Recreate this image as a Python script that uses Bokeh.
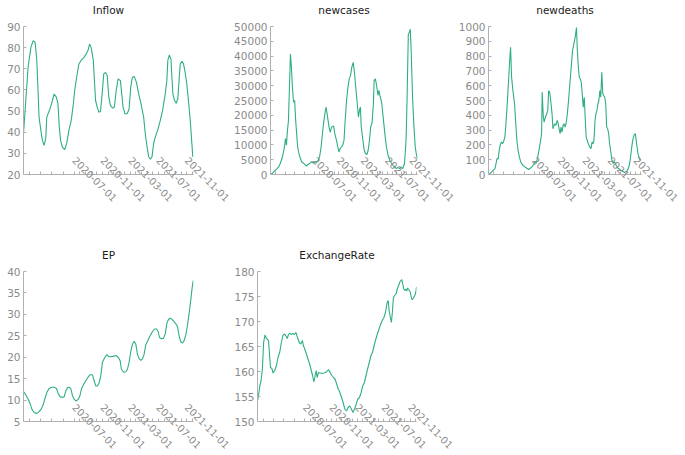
import math
from datetime import datetime
import numpy as np
import pandas as pd
from bokeh.plotting import figure
from bokeh.layouts import row, column
from bokeh.models import (Range1d, FixedTicker, DatetimeTickFormatter, BasicTickFormatter,
                          SingleIntervalTicker, Title)
from bokeh.embed import file_html
from bokeh.resources import INLINE

# ---------------- data (x = step index; ~weekly samples from START to END) ----------------
START = datetime(2019, 11, 24)
END = datetime(2021, 11, 30)
N_STEPS = 104  # the index value at END

tick_labels = ["2020-07-01", "2020-11-01", "2021-03-01", "2021-07-01", "2021-11-01"]

inflow_wk = [0, 1.4, 2.8, 4.5, 5.9, 7.1, 8.1, 8.9, 9.5, 10.6, 11.6, 12.6, 13.6, 14.2, 15.0, 16.2,
             17.7, 18.7, 20.1, 21.1, 21.9, 22.7, 23.8, 25.2, 26.4, 27.8, 29.2, 30.5, 31.3, 32.5,
             33.9, 35.3, 37.0, 38.6, 39.4, 40.4, 41.4, 42.7, 43.5, 44.1, 45.1, 46.1, 47.1, 48.1,
             49.1, 50.2, 51.2, 52.2, 53.2, 54.6, 55.6, 56.7, 57.9, 59.3, 60.1, 60.9, 62.1, 63.4,
             64.6, 65.6, 66.6, 67.8, 69.1, 70.5, 71.9, 73.5, 74.5, 75.6, 76.6, 77.6, 78.6, 79.6,
             80.6, 82.1, 83.7, 85.1, 86.7, 87.7, 88.3, 89.2, 90.2, 90.8, 91.4, 92.4, 93.4, 94.4,
             95.3, 95.9, 96.9, 97.9, 98.9, 99.9, 100.9, 102.0, 103.0, 103.6]
inflow = [39.3, 55, 70.7, 80, 83.3, 82.5, 74.6, 59.7, 47.2, 41, 36, 33.8, 37, 47, 48.7, 51,
          55, 58, 56.6, 53.4, 42.4, 36, 33, 31.8, 34.6, 41, 45.6, 53.4, 59.7, 66,
          72.3, 74, 75.4, 77.3, 78.5, 81.7, 80, 74, 63, 55, 51.9, 49.5, 49.8, 58,
          67.6, 68.3, 66.8, 56.6, 52.6, 51.4, 51.9, 59.7, 65.2, 64.4, 58, 51.9, 48.7, 48.7,
          51, 61.3, 66, 66.3, 63.6, 58, 53.4, 47.2, 39.3, 33, 28.3, 27.2, 28.3, 34.6,
          37.7, 41, 45.6, 50.3, 58, 64.4, 74, 76.5, 74.6, 66, 58, 55, 53.7, 55.8,
          66, 72.3, 73.5, 72.3, 68.3, 62.8, 55, 45.6, 34.6, 28.3]

newcases_wk = [0.0, 1.2, 2.3, 3.5, 4.6, 5.8, 6.9, 8.1, 9.2, 9.9, 10.6, 11.3, 11.8, 12.7, 13.4, 14.1,
               14.8, 15.5, 16.2, 16.6, 17.1, 17.8, 18.5, 19.2, 20.1, 20.8, 22.0, 23.1, 24.3, 25.4,
               26.6, 27.7, 28.9, 30.0, 31.2, 32.4, 33.5, 34.7, 35.8, 37.0, 38.1, 39.3, 40.4, 41.6,
               42.3, 43.2, 44.6, 45.5, 46.7, 47.6, 48.5, 49.2, 50.1, 51.1, 52.0, 52.7, 53.8, 54.8,
               55.7, 56.6, 57.5, 58.5, 59.4, 60.3, 61.2, 62.2, 62.9, 63.6, 64.2, 65.4, 66.3, 67.2,
               68.2, 69.1, 70.0, 70.9, 71.9, 72.8, 73.3, 74.2, 75.1, 76.0, 76.7, 77.4, 78.6, 79.7,
               80.9, 82.0, 83.2, 84.4, 85.5, 86.7, 87.8, 89.0, 90.1, 91.3, 92.4, 93.6, 94.8, 95.9,
               96.6, 97.5, 98.2, 98.9, 99.6, 100.5, 101.5, 102.4, 103.3, 104.0]
newcases = [0, 300, 900, 1500, 2000, 2600, 3700, 5400, 7600, 9300, 12100, 9900, 13800, 18300, 29500, 40700,
            36200, 29500, 25000, 24400, 25000, 18300, 13800, 9300, 7100, 5900, 4300, 3900, 3400, 2800,
            3400, 3700, 4300, 4000, 4000, 3900, 4600, 5900, 9300, 14900, 19400, 22800, 19400, 15500,
            14300, 16000, 16400, 13800, 11500, 9300, 7600, 8700, 9300, 9900, 11500, 17200, 25000, 29500,
            32300, 33400, 36200, 37900, 34500, 29500, 25000, 19400, 21600, 22800, 16000, 11500, 8200, 7100,
            6700, 8200, 11500, 16000, 17700, 23900, 31700, 32300, 30000, 26700, 28400, 26700, 24400, 19400,
            13800, 9300, 6500, 4800, 3900, 3100, 2600, 2000, 2400, 2000, 2600, 2000, 3700, 11500,
            25000, 47400, 48000, 49100, 40700, 26100, 16000, 9300, 6500, 5400]

newdeaths_wk = [0.0, 1.1, 2.2, 3.3, 4.4, 5.1, 5.8, 6.6, 7.3, 8.2, 8.9, 9.5, 10.2, 11.1, 11.7, 12.6,
                13.5, 14.4, 15.0, 15.7, 16.6, 17.7, 18.4, 19.3, 20.1, 21.0, 21.9, 22.8, 23.7, 24.6,
                25.4, 26.3, 27.2, 28.1, 29.0, 29.9, 30.8, 31.6, 32.3, 33.2, 33.9, 34.7, 35.4, 36.1,
                36.5, 37.2, 37.8, 38.7, 39.6, 40.3, 40.9, 41.6, 42.3, 43.2, 43.8, 44.5, 45.1, 45.8,
                46.7, 47.4, 48.0, 48.7, 49.3, 50.0, 50.7, 51.3, 52.0, 52.7, 53.6, 54.4, 55.3, 56.2,
                57.1, 58.0, 58.9, 59.8, 60.4, 61.1, 61.7, 62.4, 63.1, 63.7, 64.4, 65.1, 65.7, 66.4,
                67.1, 67.9, 68.8, 69.7, 70.4, 71.0, 71.7, 72.4, 73.0, 73.7, 74.4, 75.0, 75.7, 76.3,
                77.0, 77.7, 78.3, 79.0, 79.7, 80.3, 81.0, 81.7, 82.3, 83.0, 83.9, 84.8, 85.4, 86.1,
                86.7, 87.4, 88.3, 89.2, 90.1, 91.0, 91.8, 92.7, 93.6, 94.5, 95.4, 96.3, 97.1, 98.0,
                98.9, 99.8, 100.7, 101.6, 102.5, 103.3]
newdeaths = [3, 7, 18, 29, 40, 74, 108, 105, 164, 208, 220, 208, 220, 253, 321, 455,
             612, 769, 859, 657, 567, 478, 365, 231, 164, 119, 85, 70, 58, 52,
             47, 40, 34, 40, 47, 56, 70, 85, 74, 108, 141, 186, 231, 276,
             556, 399, 354, 388, 410, 433, 567, 556, 500, 410, 309, 332, 343, 332,
             365, 343, 309, 276, 321, 287, 332, 343, 321, 343, 410, 500, 612, 724,
             836, 881, 926, 993, 836, 724, 657, 646, 623, 545, 455, 522, 388, 253,
             231, 208, 186, 175, 220, 208, 231, 365, 410, 433, 478, 500, 567, 522,
             690, 545, 534, 522, 478, 321, 309, 276, 208, 164, 96, 74, 85, 78,
             63, 52, 40, 34, 29, 22, 18, 13, 18, 29, 52, 96, 164, 231,
             265, 276, 208, 141, 108, 96]

ep_wk = [0, 1.4, 2.9, 4.1, 5.1, 6.5, 8.2, 9.6, 11.0, 12.2, 13.3, 14.3, 15.7, 17.1, 18.8, 20.2,
         21.2, 22.4, 23.9, 24.9, 25.9, 26.9, 27.9, 29.0, 30.0, 31.0, 32.0, 33.4, 34.5, 35.5,
         36.7, 38.1, 39.6, 40.8, 42.2, 43.2, 44.2, 45.3, 46.3, 47.3, 48.3, 49.8, 51.0, 52.0,
         53.4, 54.8, 56.5, 57.9, 59.1, 59.9, 61.2, 62.6, 63.6, 64.6, 65.7, 66.7, 67.7, 68.7,
         69.7, 70.8, 71.8, 72.8, 73.8, 74.8, 75.9, 76.9, 77.9, 78.9, 80.3, 81.4, 82.4, 83.2,
         84.4, 85.6, 86.7, 87.7, 88.7, 89.7, 90.7, 91.8, 93.2, 94.2, 95.2, 96.2, 97.3, 98.3,
         99.3, 100.3, 101.3, 102.4, 103.2, 103.8]
ep = [12.0, 11.2, 10.2, 9.1, 7.9, 7.1, 6.9, 7.3, 8.0, 9.1, 10.6, 11.8, 12.7, 13.0, 13.0, 12.7,
      11.5, 10.8, 10.6, 10.8, 12.2, 12.9, 13.0, 12.6, 11.0, 10.2, 9.8, 10.1, 11.0, 12.7,
      13.6, 14.5, 15.4, 15.9, 15.9, 14.5, 13.3, 13.3, 14.1, 15.7, 18.8, 20.0, 20.6, 20.2,
      20.1, 20.2, 20.4, 20.0, 19.2, 17.2, 16.5, 16.6, 17.2, 18.8, 21.5, 23.1, 23.7, 23.1,
      20.7, 19.6, 19.3, 19.6, 20.7, 22.9, 23.7, 24.6, 25.3, 26.0, 26.6, 26.6, 26.0, 24.6,
      24.3, 24.4, 25.4, 27.9, 28.8, 29.1, 28.9, 28.4, 27.8, 27.2, 25.0, 23.6, 23.3, 23.9,
      25.2, 27.4, 30.1, 33.6, 36.3, 37.9]

fx_wk = [0, 0.6, 1.5, 2.3, 3.2, 4.0, 4.9, 5.8, 6.6, 7.2, 7.9, 8.5, 9.4, 10.2, 11.3, 12.4,
         13.4, 14.5, 15.6, 16.6, 17.7, 18.8, 19.4, 20.2, 21.1, 21.9, 23.0, 24.1, 25.1, 26.2,
         27.3, 28.3, 29.4, 30.0, 30.9, 32.0, 33.0, 34.1, 35.2, 36.0, 36.9, 37.7, 38.4, 39.0,
         39.9, 41.1, 42.2, 43.3, 44.3, 45.4, 46.5, 47.5, 48.6, 49.7, 50.7, 51.8, 52.8, 53.9,
         55.0, 56.0, 57.1, 58.2, 59.2, 60.3, 61.4, 62.4, 63.5, 64.6, 65.6, 66.7, 67.8, 68.8,
         69.9, 71.0, 72.0, 73.1, 74.2, 75.2, 76.3, 77.4, 78.4, 79.5, 80.6, 81.6, 82.7, 83.7,
         84.8, 85.5, 86.1, 86.9, 87.6, 88.2, 88.9, 89.7, 90.6, 91.4, 92.3, 93.3, 94.4, 95.0,
         95.7, 96.3, 97.0, 97.6, 98.2, 99.1, 99.9, 100.8, 101.4, 102.1, 102.9, 103.6, 104.0]
fx = [154.1, 155.1, 157.1, 158.1, 160.5, 165.8, 167.3, 166.6, 166.4, 166.2, 163.2, 160.8, 160.6, 159.7, 160.2, 161.2,
      162.8, 163.8, 165.8, 167.2, 167.5, 167.0, 166.6, 167.3, 167.7, 167.4, 167.6, 167.4, 167.8, 166.8,
      165.8, 165.5, 166.2, 165.2, 164.5, 163.5, 162.5, 161.5, 160.2, 159.2, 157.9, 159.2, 160.2, 158.8,
      159.8, 159.7, 159.6, 159.7, 159.8, 160.0, 160.4, 159.8, 159.2, 158.8, 158.5, 157.5, 156.5, 155.8,
      154.8, 153.8, 152.5, 152.1, 152.8, 153.1, 152.5, 151.8, 152.5, 153.5, 154.5, 154.8, 155.8, 157.1,
      157.8, 159.2, 160.5, 161.8, 163.2, 163.8, 165.2, 166.5, 167.5, 168.5, 169.5, 170.2, 170.8, 171.8,
      173.8, 174.2, 172.2, 170.8, 169.8, 171.8, 174.8, 175.2, 175.5, 176.5, 177.2, 178.0, 178.4, 177.5,
      176.5, 176.2, 176.5, 176.1, 176.7, 176.3, 175.9, 174.5, 174.4, 174.8, 175.2, 175.9, 176.9]

# ---------------- helpers ----------------
LINE = "#2eae85"
AXIS = "#b0b0b0"
LABEL = "#8a8a8a"
FONT = "DejaVu Sans"
SPAN_MIN = (pd.Timestamp(END) - pd.Timestamp(START)).total_seconds() / 60.0


def to_dates(steps):
    mins = np.round(np.asarray(steps, dtype=float) / N_STEPS * SPAN_MIN).astype("int64")
    return np.datetime64(START, "m") + mins.astype("timedelta64[m]")


def ms(d):
    return float(pd.Timestamp(d).value // 10**6)


major_ticks = [ms(s) for s in tick_labels]
ext = [ms("2019-11-01")] + major_ticks + [ms("2022-03-01")]
minor_ticks = []
for a, b in zip(ext[:-1], ext[1:]):
    minor_ticks += list(np.linspace(a, b, 6)[1:-1])

fmt = "%Y-%m-%d"
dt_fmt = DatetimeTickFormatter(days=fmt, months=fmt, years=fmt, hours=fmt, minutes=fmt,
                               seconds=fmt, milliseconds=fmt, microseconds=fmt, minsec=fmt,
                               hourmin=fmt)


def make_fig(title, wk, vals, y0, y1, step, w, h, bl, br, bt, bb):
    p = figure(width=w, height=h, x_axis_type="datetime", output_backend="svg",
               toolbar_location=None, x_range=Range1d(START, END), y_range=Range1d(y0, y1),
               min_border_left=bl, min_border_right=br, min_border_top=bt, min_border_bottom=bb)
    p.line(x=to_dates(wk), y=vals, line_color=LINE, line_width=1.1)
    # spacer between the title and the frame
    p.add_layout(Title(text=" ", text_font_size="1px", standoff=3), "above")
    p.title.text = title
    p.title.align = "center"
    p.title.vertical_align = "top"
    p.title.text_font = FONT
    p.title.text_font_size = "10.5px"
    p.title.text_font_style = "normal"
    p.title.text_color = "#1a1a1a"
    p.title.standoff = 6
    p.grid.visible = False
    p.outline_line_color = None
    p.background_fill_color = "white"
    p.border_fill_color = "white"
    for ax in (p.xaxis[0], p.yaxis[0]):
        ax.axis_line_color = AXIS
        ax.major_tick_line_color = AXIS
        ax.minor_tick_line_color = AXIS
        ax.major_label_text_color = LABEL
        ax.major_label_text_font = FONT
        ax.major_label_text_font_size = "10.5px"
    xa = p.xaxis[0]
    xa.ticker = FixedTicker(ticks=major_ticks, minor_ticks=minor_ticks)
    xa.formatter = dt_fmt
    xa.major_label_orientation = -math.pi / 4
    xa.major_label_text_font_size = "10px"
    xa.major_tick_in = 3
    xa.major_tick_out = 0
    xa.minor_tick_in = 3
    xa.minor_tick_out = 0
    xa.major_label_standoff = -16
    ya = p.yaxis[0]
    ya.ticker = SingleIntervalTicker(interval=step, num_minor_ticks=0)
    ya.formatter = BasicTickFormatter(use_scientific=False)
    ya.major_tick_in = 3
    ya.major_tick_out = 0
    ya.minor_tick_line_color = None
    ya.major_label_standoff = 3
    return p


H1, H2 = 245, 210
p1 = make_fig("Inflow", inflow_wk, inflow, 20, 90, 10, 231, H1, 23, 38, 0, 71)
p2 = make_fig("newcases", newcases_wk, newcases, 0, 50000, 5000, 224, H1, 36, 38, 0, 71)
p3 = make_fig("newdeaths", newdeaths_wk, newdeaths, 0, 1000, 100, 229, H1, 30, 43, 0, 71)
p4 = make_fig("EP", ep_wk, ep, 5, 40, 5, 231, H2, 23, 38, 0, 20)
p5 = make_fig("ExchangeRate", fx_wk, fx, 150, 180, 5, 236, H2, 22, 51, 0, 20)

layout = column(row(p1, p2, p3), row(p4, p5))

open("out.html", "w").write(file_html(layout, INLINE))
